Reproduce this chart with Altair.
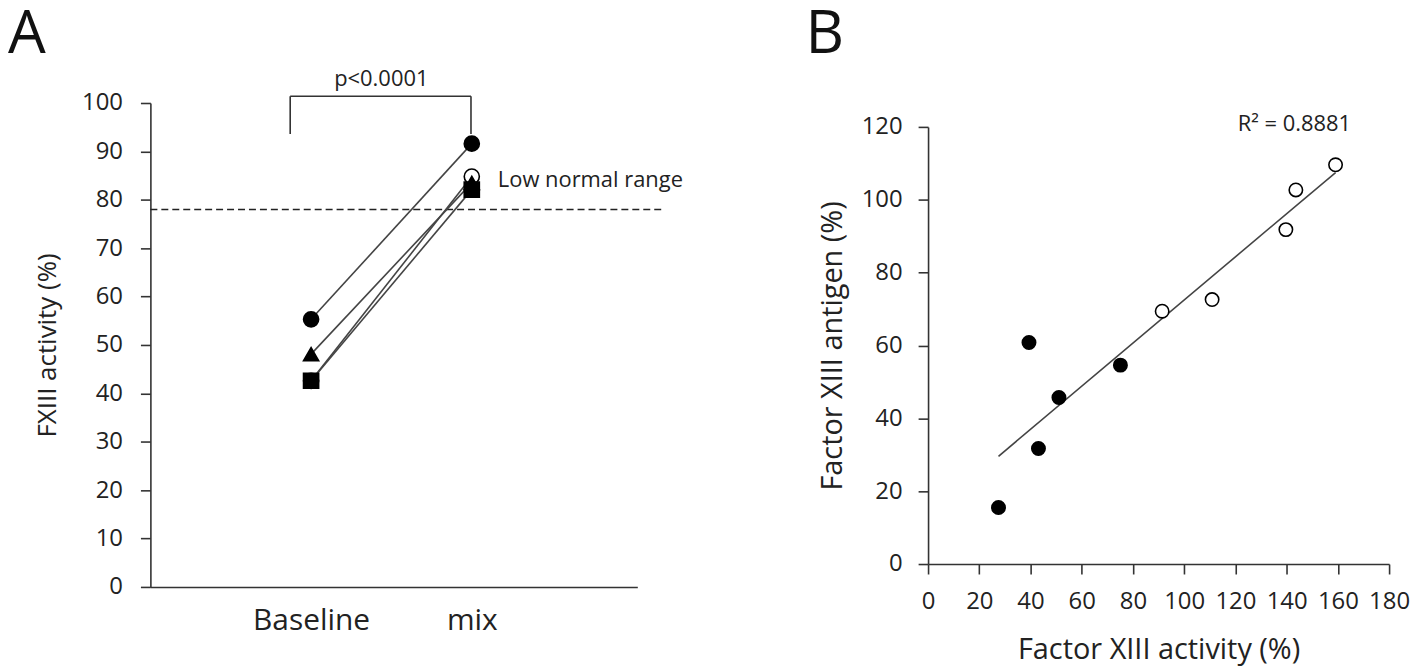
import json
import altair as alt
import pandas as pd

# ---------------- Panel A data ----------------
groups = ["Baseline", "mix"]
subject_ids = ["s3", "s1", "s2", "s4"]
subject_shape = ["circle", "circle", "triangle-up", "square"]
subject_fill = ["white", "black", "black", "black"]
baseline_vals = [42.6, 55.3, 48.1, 42.6]
mix_vals = [84.8, 91.6, 83.5, 82.1]
low_normal = [78]
p_label = ["p<0.0001"]
low_label = ["Low normal range"]

# ---------------- Panel B data ----------------
activity_filled = [27.5, 39.4, 43.1, 51.1, 75.1]
antigen_filled = [15.5, 60.8, 31.7, 45.7, 54.6]
activity_open = [91.4, 110.9, 139.7, 143.6, 159.1]
antigen_open = [69.4, 72.6, 91.8, 102.7, 109.6]
r2_label = ["R\u00b2 = 0.8881"]

FONT = "Open Sans"
TXT = "#222222"
AX = "#333333"

# ---------- build tables ----------
rowsA = []
for sid, shp, fc, b, m in zip(subject_ids, subject_shape, subject_fill, baseline_vals, mix_vals):
    rowsA.append({"subject": sid, "pos": 1, "value": b, "shape": shp, "fillc": fc, "order": 0})
    rowsA.append({"subject": sid, "pos": 2, "value": m, "shape": shp, "fillc": fc, "order": 1})
dfA = pd.DataFrame(rowsA)

xA = alt.Scale(domain=[0, 3.03], nice=False)
yA = alt.Scale(domain=[0, 100], nice=False)

label_expr = json.dumps(groups) + "[datum.value - 1]"

x_axis_A = alt.Axis(values=[1, 2], labelExpr=label_expr, ticks=False, tickSize=0,
                    labelFontSize=30, labelPadding=19, title=None, grid=False,
                    labelFlush=False)
y_axis_A = alt.Axis(values=list(range(0, 101, 10)), tickSize=10, labelFontSize=24,
                    labelPadding=18, title="FXIII activity (%)", titleFontSize=26,
                    titlePadding=21, grid=False)

linesA = alt.Chart(dfA).mark_line(color="#444444", strokeWidth=1.6).encode(
    x=alt.X("pos:Q", scale=xA, axis=x_axis_A),
    y=alt.Y("value:Q", scale=yA, axis=y_axis_A),
    detail="subject:N",
    order="order:Q",
)
pointsA = alt.Chart(dfA).mark_point(size=230, strokeWidth=1.6, opacity=1, stroke="black").encode(
    x=alt.X("pos:Q", scale=xA),
    y=alt.Y("value:Q", scale=yA),
    shape=alt.Shape("shape:N", scale=None),
    fill=alt.Fill("fillc:N", scale=None),
)

dash_df = pd.DataFrame({"y": low_normal, "x0": [0], "x1": [3.19]})
dashA = alt.Chart(dash_df).mark_rule(color="#222222", strokeWidth=1.6, strokeDash=[7, 4]).encode(
    x=alt.X("x0:Q", scale=xA), x2="x1:Q", y=alt.Y("y:Q", scale=yA)
)

low_df = pd.DataFrame({"x": [2.162], "y": [84.0], "t": low_label})
lowA = alt.Chart(low_df).mark_text(align="left", baseline="middle", fontSize=22,
                                   font=FONT, color=TXT).encode(
    x=alt.X("x:Q", scale=xA), y=alt.Y("y:Q", scale=yA), text="t:N"
)

# significance bracket
br_h = pd.DataFrame({"x0": [0.87], "x1": [1.995], "y": [101.4]})
br_v = pd.DataFrame({"x": [0.87, 1.995], "y0": [101.4, 101.4], "y1": [93.6, 93.6]})
bracket_h = alt.Chart(br_h).mark_rule(color="#333333", strokeWidth=1.6).encode(
    x=alt.X("x0:Q", scale=xA), x2="x1:Q", y=alt.Y("y:Q", scale=yA)
)
bracket_v = alt.Chart(br_v).mark_rule(color="#333333", strokeWidth=1.6).encode(
    x=alt.X("x:Q", scale=xA), y=alt.Y("y0:Q", scale=yA), y2="y1:Q"
)
p_df = pd.DataFrame({"x": [1.437], "y": [103.5], "t": p_label})
pA = alt.Chart(p_df).mark_text(align="center", baseline="alphabetic", fontSize=22,
                               font=FONT, color=TXT).encode(
    x=alt.X("x:Q", scale=xA), y=alt.Y("y:Q", scale=yA), text="t:N"
)

letterA = alt.Chart(pd.DataFrame({"t": ["A"]})).mark_text(
    align="left", baseline="alphabetic", fontSize=60, font=FONT, color="#111111"
).encode(x=alt.value(-143), y=alt.value(-50), text="t:N")

panelA = alt.layer(dashA, bracket_h, bracket_v, pA, linesA, pointsA, lowA, letterA).properties(
    width=489, height=486
)

# ---------------- Panel B ----------------
dfB = pd.DataFrame({
    "activity": activity_filled + activity_open,
    "antigen": antigen_filled + antigen_open,
    "fillc": ["black"] * len(activity_filled) + ["white"] * len(activity_open),
})

xB = alt.Scale(domain=[0, 180], nice=False)
yB = alt.Scale(domain=[0, 120], nice=False, range=[463, 24])

x_axis_B = alt.Axis(values=list(range(0, 181, 20)), tickSize=10, labelFontSize=24,
                    labelPadding=16, labelFlush=False, title="Factor XIII activity (%)",
                    titleFontSize=29, titlePadding=22, grid=False)
y_axis_B = alt.Axis(values=list(range(0, 121, 20)), tickSize=10, labelFontSize=24,
                    labelPadding=16, title="Factor XIII antigen (%)", titleFontSize=29,
                    titlePadding=14, grid=False)

trend = alt.Chart(dfB).transform_regression("activity", "antigen").mark_line(
    color="#444444", strokeWidth=1.6
).encode(
    x=alt.X("activity:Q", scale=xB, axis=x_axis_B),
    y=alt.Y("antigen:Q", scale=yB, axis=y_axis_B),
)
pointsB = alt.Chart(dfB).mark_point(shape="circle", size=180, strokeWidth=1.6, opacity=1,
                                    stroke="black").encode(
    x=alt.X("activity:Q", scale=xB),
    y=alt.Y("antigen:Q", scale=yB),
    fill=alt.Fill("fillc:N", scale=None),
)
r2_df = pd.DataFrame({"x": [143.0], "y": [118.9], "t": r2_label})
r2 = alt.Chart(r2_df).mark_text(align="center", baseline="alphabetic", fontSize=22,
                                font=FONT, color=TXT).encode(
    x=alt.X("x:Q", scale=xB), y=alt.Y("y:Q", scale=yB), text="t:N"
)
letterB = alt.Chart(pd.DataFrame({"t": ["B"]})).mark_text(
    align="left", baseline="alphabetic", fontSize=60, font=FONT, color="#111111"
).encode(x=alt.value(-123), y=alt.value(-50), text="t:N")

panelB = alt.layer(trend, pointsB, r2, letterB).properties(width=463, height=463)

chart = alt.hconcat(panelA, panelB, spacing=292, bounds="flush").properties(
    padding={"top": -4, "left": 0, "right": 0, "bottom": 0}
).configure_view(stroke=None).configure_axis(
    labelFont=FONT, titleFont=FONT, labelColor=TXT, titleColor=TXT,
    titleFontWeight="normal", domainColor=AX, tickColor=AX, domainWidth=1.6,
    tickWidth=1.6, grid=False
)

chart.save("out.html", embed_options={"renderer": "svg", "actions": False})
